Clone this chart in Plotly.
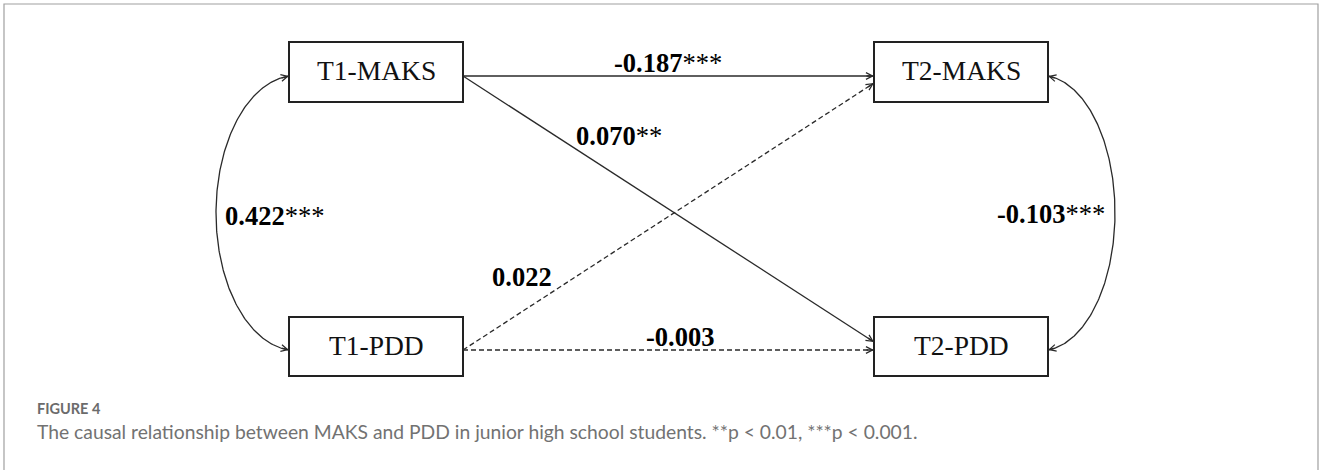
import numpy as np
import plotly.graph_objects as go

# ---------------- data ----------------
node_names = ["T1-MAKS", "T2-MAKS", "T1-PDD", "T2-PDD"]
path_source = ["T1-MAKS", "T1-MAKS", "T1-PDD", "T1-PDD"]
path_target = ["T2-MAKS", "T2-PDD", "T2-MAKS", "T2-PDD"]
path_coef = ["-0.187", "0.070", "0.022", "-0.003"]
path_stars = ["***", "**", "", ""]
corr_first = ["T1-MAKS", "T2-MAKS"]
corr_second = ["T1-PDD", "T2-PDD"]
corr_coef = ["0.422", "-0.103"]
corr_stars = ["***", "***"]
caption_title = "FIGURE 4"
caption_text = ("The causal relationship between MAKS and PDD in junior high school "
                "students. **p < 0.01, ***p < 0.001.")

# ---------------- layout (pixel space) ----------------
W, H = 1328, 470
LINE = "#2a2a2a"
SERIF = "Liberation Serif, Times New Roman, serif"
box_pos = {"T1-MAKS": (289, 463, 42, 102), "T2-MAKS": (874, 1048, 42, 102),
           "T1-PDD": (289, 463, 317, 376), "T2-PDD": (874, 1048, 317, 376)}
port_y = {"T1-MAKS": 76, "T2-MAKS": 76, "T1-PDD": 350, "T2-PDD": 350}
path_end_dy = [0, -8, 7, 0]
path_label_xy = [(668, 62.5), (619, 136), (522, 277), (680, 337)]
corr_side = [-1, 1]
corr_bulge = [73, 67]
corr_label_xy = [(274, 216), (1051, 214)]

fig = go.Figure()


def head(tip, tail):
    fig.add_annotation(x=tip[0], y=tip[1], ax=tail[0], ay=tail[1],
                       xref="x", yref="y", axref="x", ayref="y", text="",
                       showarrow=True, arrowhead=5, arrowsize=1.0,
                       arrowwidth=1.3, arrowcolor=LINE, standoff=0)


# nodes
for n in node_names:
    x0, x1, y0, y1 = box_pos[n]
    fig.add_shape(type="rect", x0=x0, x1=x1, y0=y0, y1=y1,
                  line=dict(color="#222222", width=2), fillcolor="white")
    fig.add_annotation(x=(x0 + x1) / 2, y=(y0 + y1) / 2 - 1.5, text=n,
                       showarrow=False, font=dict(family=SERIF, size=27.5, color="#111111"))

# cross-lagged / autoregressive paths
for i, (s, t) in enumerate(zip(path_source, path_target)):
    sx = box_pos[s][1]
    sy = port_y[s]
    tx = box_pos[t][0]
    ty = port_y[t] + path_end_dy[i]
    solid = path_stars[i] != ""
    fig.add_trace(go.Scatter(x=[sx, tx], y=[sy, ty], mode="lines", hoverinfo="skip",
                             line=dict(color=LINE, width=1.3,
                                       dash="solid" if solid else "5px,3px")))
    d = np.array([tx - sx, ty - sy], dtype=float)
    d /= np.hypot(*d)
    head((tx, ty), (tx - 9 * d[0], ty - 9 * d[1]))
    lx, ly = path_label_xy[i]
    fig.add_annotation(x=lx, y=ly, text=f"<b>{path_coef[i]}</b>{path_stars[i]}",
                       showarrow=False, font=dict(family=SERIF, size=26.5, color="#000000"))

# correlations (double-headed curved arrows)
for i in range(len(corr_first)):
    a, b = corr_first[i], corr_second[i]
    side = corr_side[i]
    ex = box_pos[a][0] if side < 0 else box_pos[a][1]
    ya, yb = port_y[a], port_y[b]
    cy = (ya + yb) / 2
    off = 7
    cx = ex - side * off
    rx = corr_bulge[i] + off
    t0 = np.arccos(off / rx)
    ry = (yb - ya) / 2 / np.sin(t0)
    t = np.linspace(-t0, t0, 200)
    xs = cx + side * rx * np.cos(t)
    ys = cy + ry * np.sin(t)
    fig.add_trace(go.Scatter(x=xs, y=ys, mode="lines", hoverinfo="skip",
                             line=dict(color=LINE, width=1.3)))
    dl = 0.11
    for tt, tb in ((-t0, -t0 + dl), (t0, t0 - dl)):
        tip = (cx + side * rx * np.cos(tt), cy + ry * np.sin(tt))
        tail = (cx + side * rx * np.cos(tb), cy + ry * np.sin(tb))
        head(tip, tail)
    lx, ly = corr_label_xy[i]
    fig.add_annotation(x=lx, y=ly, text=f"<b>{corr_coef[i]}</b>{corr_stars[i]}",
                       showarrow=False, font=dict(family=SERIF, size=26.5, color="#000000"))

# frame
fig.add_shape(type="rect", x0=4, x1=1318, y0=4, y1=H + 20,
              line=dict(color="#a0a0a0", width=1.2), layer="below")

# caption
fig.add_annotation(x=35, y=408.5, xanchor="left", text=f"<b>{caption_title}</b>",
                   showarrow=False, font=dict(family="Lato, Open Sans, sans-serif",
                                              size=14.5, color="#6b6b6b"))
fig.add_annotation(x=35, y=431.5, xanchor="left", text=caption_text,
                   showarrow=False, font=dict(family="Lato, Open Sans, sans-serif",
                                              size=19.3, color="#727272"))

fig.update_layout(width=W, height=H, margin=dict(l=0, r=0, t=0, b=0),
                  paper_bgcolor="white", plot_bgcolor="white", showlegend=False,
                  xaxis=dict(range=[0, W], visible=False, fixedrange=True),
                  yaxis=dict(range=[H, 0], visible=False, fixedrange=True))

fig.write_html("out.html", config={"displayModeBar": False},
               post_script="document.body.style.margin='0';document.body.style.overflow='hidden';")
